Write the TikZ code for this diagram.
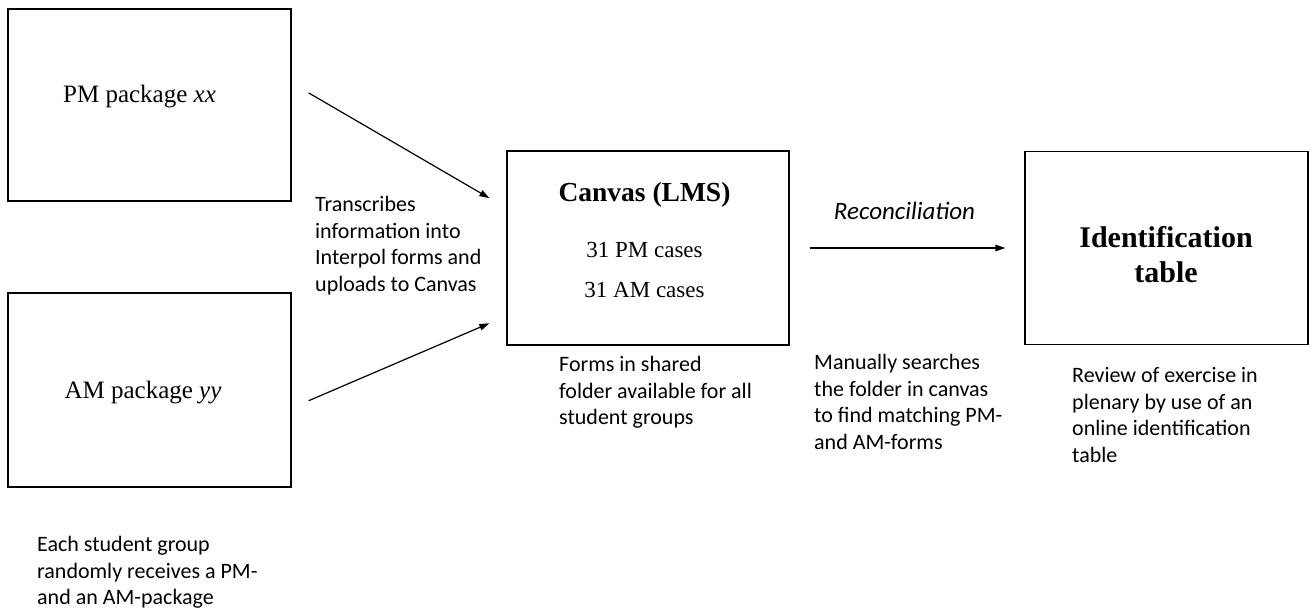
\documentclass[tikz,border=0pt]{standalone}
\usepackage{fontspec}
\setmainfont{Carlito}
\newfontfamily\boxfont{Liberation Serif}
\usetikzlibrary{arrows.meta,positioning}

\tikzset{
  stage/.style={draw, line width=1.3pt, minimum width=283pt, minimum height=193pt, inner sep=0pt},
  flow/.style={line width=1.2pt, -{Triangle[length=10pt,width=6.5pt]}},
  note/.style={inner sep=0pt, align=left, font=\fontsize{22}{26.7}\selectfont},
  boxtext/.style={inner sep=0pt, font=\boxfont\fontsize{25}{30}\selectfont}
}

\begin{document}
\begin{tikzpicture}[x=1pt,y=1pt,yscale=-1,xscale=1]
\useasboundingbox (0,0) rectangle (1309,612);

%Shape: Rectangle
\node (pm) [stage, minimum height=192pt] at (149.5,105) {};
%Shape: Rectangle
\node (am) [stage, minimum height=194pt] at (149.5,390) {};
%Shape: Rectangle
\node (canvas) [stage, minimum width=282pt, minimum height=194pt] at (648,248) {};
%Shape: Rectangle
\node (idtable) [stage] at (1166.5,248) {};

%Straight Lines
\draw [flow, shorten <=19.6pt, shorten >=19.6pt] ([yshift=-22pt]pm.east) -- ([yshift=-40pt]canvas.west);
%Straight Lines
\draw [flow, shorten <=18.5pt, shorten >=18.5pt] ([yshift=18pt]am.east) -- ([yshift=68pt]canvas.west);
%Straight Lines
\draw [flow, shorten <=20pt, shorten >=19pt] (canvas.east) -- (idtable.west);

% Text Node
\node (pmtext) [boxtext, anchor=base] at (139.5,103) {PM package \textit{xx}};
% Text Node
\node (amtext) [boxtext, anchor=base] at (143,398) {AM package \textit{yy}};
% Text Node
\node (canvastitle) [boxtext, anchor=base, font=\boxfont\bfseries\fontsize{27.5}{33}\selectfont] at (644.5,202) {Canvas (LMS)};
% Text Node
\node (pmcases) [boxtext, anchor=base, font=\boxfont\fontsize{23}{28}\selectfont] at (644.5,258) {31 PM cases};
% Text Node
\node (amcases) [boxtext, anchor=base, font=\boxfont\fontsize{23}{28}\selectfont] at (644.5,298) {31 AM cases};
% Text Node
\node (idtitle) [boxtext, anchor=base, font=\boxfont\bfseries\fontsize{30}{35}\selectfont] at (1166,248) {Identification};
% Text Node
\node (idtitle2) [boxtext, anchor=base, font=\boxfont\bfseries\fontsize{30}{35}\selectfont] at (1166,283) {table};

% Text Node
\node (reconcile) [note, anchor=base, font=\itshape\fontsize{25}{30}\selectfont] at (904.5,220) {Reconciliation};
% Text Node
\node (transcribe) [note, anchor=north west] at (315,196) {Transcribes\\information into\\Interpol forms and\\uploads to Canvas};
% Text Node
\node (shared) [note, anchor=north west] at (559,356) {Forms in shared\\folder available for all\\student groups};
% Text Node
\node (search) [note, anchor=north west] at (814,354) {Manually searches\\the folder in canvas\\to find matching PM-\\and AM-forms};
% Text Node
\node (review) [note, anchor=north west] at (1072,367) {Review of exercise in\\plenary by use of an\\online identification\\table};
% Text Node
\node (groups) [note, anchor=north west] at (37,536) {Each student group\\randomly receives a PM-\\and an AM-package};

\end{tikzpicture}
\end{document}
